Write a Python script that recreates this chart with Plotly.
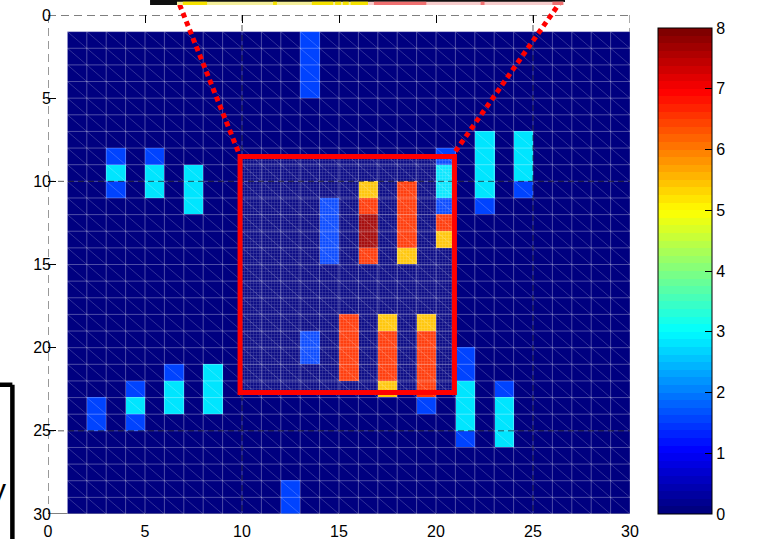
import numpy as np
import plotly.graph_objects as go

# Cell values (jet colormap scale 0..8)
B, C, Y, R, D = 1.5, 2.8, 5.4, 6.6, 7.7

# Vertical runs of non-zero cells: column, first row, last row, value
run_col = [13, 3, 3, 3, 5, 5, 7, 22, 22, 24, 24,
           20, 20, 20, 20, 20, 14, 16, 16, 16, 16, 18, 18,
           13, 15, 17, 17, 17, 19, 19, 19, 21, 21, 21, 23, 23,
           2, 4, 4, 4, 6, 6, 8, 12]
run_top = [1, 8, 9, 10, 8, 9, 9, 7, 11, 7, 10,
           8, 9, 11, 12, 13, 11, 10, 11, 12, 14, 10, 14,
           19, 18, 18, 19, 22, 18, 19, 23, 20, 22, 25, 22, 23,
           23, 22, 23, 24, 21, 22, 21, 28]
run_bottom = [4, 8, 9, 10, 8, 10, 11, 10, 11, 9, 10,
              8, 10, 11, 12, 13, 14, 10, 11, 13, 14, 13, 14,
              20, 21, 18, 21, 22, 18, 22, 23, 21, 24, 25, 22, 25,
              24, 22, 23, 24, 21, 23, 23, 29]
run_val = [B, B, C, B, B, C, C, C, B, C, B,
           B, C, B, R, Y, B, Y, R, D, R, R, Y,
           B, R, Y, R, Y, Y, R, B, B, C, B, B, C,
           B, B, C, B, B, C, C, B]

x_ticks = [0, 5, 10, 15, 20, 25, 30]
y_ticks = [0, 5, 10, 15, 20, 25, 30]
cbar_ticks = [0, 1, 2, 3, 4, 5, 6, 7, 8]

# Highlighted region
zoom_x = [9.9, 20.95]
zoom_y = [8.5, 22.7]

N = 29
z = np.zeros((N, N))
for c, t, b, v in zip(run_col, run_top, run_bottom, run_val):
    z[t - 1:b, c - 1] = v

centers = np.arange(1, N + 1) + 0.5


def jet(t):
    r = np.clip(1.5 - abs(4 * t - 3), 0, 1)
    g = np.clip(1.5 - abs(4 * t - 2), 0, 1)
    b = np.clip(1.5 - abs(4 * t - 1), 0, 1)
    return "rgb(%d,%d,%d)" % (round(r * 255), round(g * 255), round(b * 255))


# 64-step jet colormap
steps = 64
jet64 = []
for i in range(steps):
    col = jet(i / (steps - 1))
    jet64.append([i / steps, col])
    jet64.append([(i + 1) / steps, col])

font = dict(family="Liberation Sans, Arial, sans-serif", size=16, color="black")

fig = go.Figure()

fig.add_trace(go.Heatmap(
    x=centers, y=centers, z=z,
    colorscale=jet64, zmin=0, zmax=8,
    hoverinfo="skip",
    colorbar=dict(
        thickness=54, thicknessmode="pixels",
        len=486, lenmode="pixels",
        x=1.0481, xanchor="left", xpad=0,
        y=0, yanchor="bottom", ypad=0,
        outlinewidth=1, outlinecolor="black",
        ticks="inside", ticklen=7, tickcolor="black",
        tickvals=cbar_ticks, tickfont=font,
    ),
))

# Cell edges and triangle diagonals of the mesh
gx, gy = [], []
for k in range(1, 31):
    gx += [k, k, None]
    gy += [1, 30, None]
    gx += [1, 30, None]
    gy += [k, k, None]
fig.add_trace(go.Scatter(x=gx, y=gy, mode="lines",
                         line=dict(color="rgba(255,255,255,0.30)", width=1),
                         hoverinfo="skip", showlegend=False))
dx, dy = [], []
for k in range(-28, 29):
    x0, y0 = (1 + k, 1) if k >= 0 else (1, 1 - k)
    L = 29 - abs(k)
    dx += [x0, x0 + L, None]
    dy += [y0, y0 + L, None]
fig.add_trace(go.Scatter(x=dx, y=dy, mode="lines",
                         line=dict(color="rgba(255,255,255,0.28)", width=0.7),
                         hoverinfo="skip", showlegend=False))

# Semi-transparent mesh over the highlighted region
fig.add_trace(go.Scatter(
    x=[zoom_x[0], zoom_x[1], zoom_x[1], zoom_x[0], zoom_x[0]],
    y=[zoom_y[0], zoom_y[0], zoom_y[1], zoom_y[1], zoom_y[0]],
    mode="lines", fill="toself", line=dict(width=0),
    fillcolor="rgba(255,255,255,0.1)",
    fillpattern=dict(shape="+", size=3, solidity=0.3,
                     fgcolor="rgba(255,255,255,0.5)",
                     bgcolor="rgba(255,255,255,0.06)"),
    hoverinfo="skip", showlegend=False))


def px(xd):
    return xd / 30.0


def py(yd):
    return 1 - yd / 30.0


shapes = []
# Axes frame
shapes.append(dict(type="line", xref="x", yref="y", x0=0, x1=30, y0=0, y1=0,
                   line=dict(color="black", width=1, dash="8px,5px"), layer="below"))
shapes.append(dict(type="line", xref="x", yref="y", x0=0, x1=0, y0=0, y1=30,
                   line=dict(color="#555555", width=1.2, dash="8px,5px"), layer="below"))
shapes.append(dict(type="line", xref="x", yref="y", x0=30, x1=30, y0=0, y1=30,
                   line=dict(color="#555555", width=1, dash="8px,5px"), layer="below"))
shapes.append(dict(type="line", xref="x", yref="y", x0=0, x1=30, y0=30, y1=30,
                   line=dict(color="black", width=1), layer="below"))
# Dashed reference lines
for v in [10, 25]:
    shapes.append(dict(type="line", xref="x", yref="y", x0=v, x1=v, y0=0, y1=30,
                       line=dict(color="rgba(0,0,0,0.65)", width=1, dash="6px,4px")))
    shapes.append(dict(type="line", xref="x", yref="y", x0=0, x1=30, y0=v, y1=v,
                       line=dict(color="rgba(0,0,0,0.65)", width=1, dash="6px,4px")))
# Highlight border
shapes.append(dict(type="rect", xref="x", yref="y",
                   x0=zoom_x[0], x1=zoom_x[1], y0=zoom_y[0], y1=zoom_y[1],
                   line=dict(color="#ff0000", width=5)))
# Dotted connectors to the magnified view
shapes.append(dict(type="line", xref="paper", yref="paper",
                   x0=px(9.8), y0=py(8.2), x1=px(6.62), y1=py(-1.1),
                   line=dict(color="#ff0000", width=5, dash="5px,4px")))
shapes.append(dict(type="line", xref="paper", yref="paper",
                   x0=px(21.0), y0=py(8.2), x1=px(26.6), y1=py(-1.1),
                   line=dict(color="#ff0000", width=5, dash="5px,4px")))
# Bottom edge of the magnified view
shapes.append(dict(type="rect", xref="paper", yref="paper",
                   x0=px(5.26), x1=px(26.65), y0=py(-0.78), y1=py(-1.0),
                   fillcolor="#101010", line=dict(width=0)))
shapes.append(dict(type="rect", xref="paper", yref="paper",
                   x0=px(6.65), x1=px(16.5), y0=py(-0.6), y1=py(-0.8),
                   fillcolor="#f4ee9a", line=dict(width=0)))
for a, b in [(6.95, 8.2), (11.6, 11.8), (13.6, 14.7), (14.8, 15.1), (15.2, 15.5), (15.6, 16.5)]:
    shapes.append(dict(type="rect", xref="paper", yref="paper",
                       x0=px(a), x1=px(b), y0=py(-0.6), y1=py(-0.8),
                       fillcolor="#f6e200", line=dict(width=0)))
shapes.append(dict(type="rect", xref="paper", yref="paper",
                   x0=px(5.26), x1=px(6.65), y0=py(-0.6), y1=py(-0.8),
                   fillcolor="#101010", line=dict(width=0)))
shapes.append(dict(type="rect", xref="paper", yref="paper",
                   x0=px(16.5), x1=px(26.6), y0=py(-0.6), y1=py(-0.8),
                   fillcolor="#f7cccc", line=dict(width=0)))
for a, b in [(16.8, 19.5), (22.3, 22.5), (26.0, 26.55)]:
    shapes.append(dict(type="rect", xref="paper", yref="paper",
                       x0=px(a), x1=px(b), y0=py(-0.6), y1=py(-0.8),
                       fillcolor="#f07070", line=dict(width=0)))
# Partial frame at the lower left
shapes.append(dict(type="line", xref="paper", yref="paper",
                   x0=-0.0612, x1=-0.0612, y0=-0.06, y1=0.259,
                   line=dict(color="black", width=4.5)))
shapes.append(dict(type="line", xref="paper", yref="paper",
                   x0=-0.09, x1=-0.0612, y0=0.259, y1=0.259,
                   line=dict(color="black", width=4.5)))

# Inner tick marks on the left edge of the colorbar
cb_x0 = 1.0481
for v in cbar_ticks[1:-1]:
    yy = (486 * v / 8) / 499
    shapes.append(dict(type="line", xref="paper", yref="paper",
                       x0=cb_x0, x1=cb_x0 + 7 / 582, y0=yy, y1=yy,
                       line=dict(color="black", width=1)))

fig.update_layout(
    width=757, height=539,
    margin=dict(l=48, r=127, t=15, b=25, autoexpand=False),
    paper_bgcolor="white", plot_bgcolor="white",
    font=font,
    shapes=shapes,
    annotations=[dict(text="y", xref="paper", yref="paper",
                      x=-0.0688, y=0.05, xanchor="right", yanchor="middle",
                      showarrow=False,
                      font=dict(family="Liberation Sans, Arial", size=30, color="black"))],
    xaxis=dict(range=[0, 30], tickvals=x_ticks, ticks="inside", ticklen=8,
               tickcolor="black", mirror="ticks", showgrid=False, zeroline=False,
               showline=False, layer="below traces", tickfont=font,
               ticklabelstandoff=6),
    yaxis=dict(range=[30, 0], tickvals=y_ticks, ticks="inside", ticklen=8,
               tickcolor="black", mirror="ticks", showgrid=False, zeroline=False,
               showline=False, layer="below traces", tickfont=font,
               ticklabelstandoff=-4),
)

fig.write_html("out.html")
